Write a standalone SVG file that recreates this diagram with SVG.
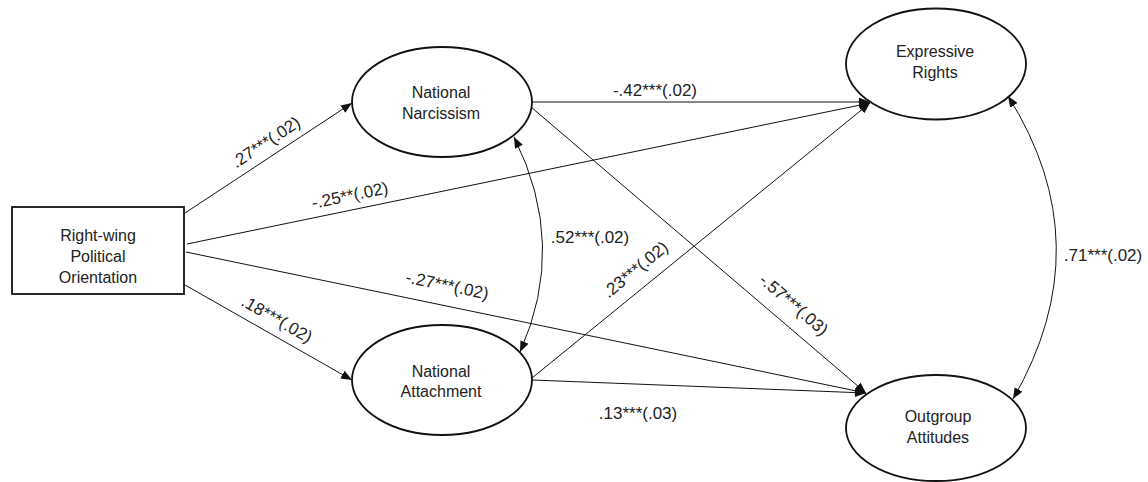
<svg xmlns="http://www.w3.org/2000/svg" width="1148" height="482" viewBox="0 0 1148 482">
<style>
  .node { fill: #ffffff; stroke: #111; stroke-width: 1.8; }
  .ntext { font-family: "Liberation Sans", Arial, sans-serif; font-size: 16px; fill: #222; text-anchor: middle; }
  .conn { fill: none; stroke: #111; stroke-width: 1; }
  .lbl { font-family: "Liberation Sans", Arial, sans-serif; font-size: 17px; fill: #222; text-anchor: middle; }
</style>
<defs>
  <marker id="arr" viewBox="0 0 10 8" refX="10" refY="4" markerUnits="userSpaceOnUse" markerWidth="11" markerHeight="9" orient="auto-start-reverse">
    <path d="M0,0 L10,4 L0,8 z" fill="#111"/>
  </marker>
</defs>
<rect width="1148" height="482" fill="#ffffff"/>

<g id="connectors">
  <path class="conn" d="M185,213 L352,103" marker-end="url(#arr)"/>
  <path class="conn" d="M187,244 L870,103" marker-end="url(#arr)"/>
  <path class="conn" d="M186,252 L866,393" marker-end="url(#arr)"/>
  <path class="conn" d="M185,285 L352,380" marker-end="url(#arr)"/>
  <path class="conn" d="M532,102 L870,102" marker-end="url(#arr)"/>
  <path class="conn" d="M531,107 L866,393" marker-end="url(#arr)"/>
  <path class="conn" d="M532,378 L870,103" marker-end="url(#arr)"/>
  <path class="conn" d="M532,380 L866,393" marker-end="url(#arr)"/>
  <path class="conn" d="M514,137 Q568,245 520,352" marker-start="url(#arr)" marker-end="url(#arr)"/>
  <path class="conn" d="M1008,96 Q1102,245 1013,399" marker-start="url(#arr)" marker-end="url(#arr)"/>
</g>

<g id="labels">
  <text class="lbl" transform="translate(269,147) rotate(-33.4)">.27***(.02)</text>
  <text class="lbl" transform="translate(351,201) rotate(-11.7)">-.25**(.02)</text>
  <text class="lbl" transform="translate(446,291) rotate(11.7)">-.27***(.02)</text>
  <text class="lbl" transform="translate(274,324) rotate(29.6)">.18***(.02)</text>
  <text class="lbl" x="655" y="96">-.42***(.02)</text>
  <text class="lbl" transform="translate(790,309) rotate(40.6)">-.57***(.03)</text>
  <text class="lbl" transform="translate(639,274) rotate(-39.1)">.23***(.02)</text>
  <text class="lbl" x="638" y="419">.13***(.03)</text>
  <text class="lbl" x="590" y="243">.52***(.02)</text>
  <text class="lbl" x="1103" y="261">.71***(.02)</text>
</g>

<g id="node-rwpo">
  <rect class="node" x="12" y="207" width="172" height="87" stroke-width="1.5"/>
  <text class="ntext" x="98" y="241">Right-wing</text>
  <text class="ntext" x="98" y="262">Political</text>
  <text class="ntext" x="98" y="283">Orientation</text>
</g>

<g id="node-nn">
  <ellipse class="node" cx="442" cy="102" rx="90" ry="55"/>
  <text class="ntext" x="441" y="98">National</text>
  <text class="ntext" x="441" y="119">Narcissism</text>
</g>

<g id="node-na">
  <ellipse class="node" cx="442" cy="380" rx="90" ry="55"/>
  <text class="ntext" x="441" y="377">National</text>
  <text class="ntext" x="441" y="397">Attachment</text>
</g>

<g id="node-er">
  <ellipse class="node" cx="936" cy="64" rx="90" ry="55.5"/>
  <text class="ntext" x="935" y="57">Expressive</text>
  <text class="ntext" x="935" y="78">Rights</text>
</g>

<g id="node-oa">
  <ellipse class="node" cx="936" cy="428" rx="90" ry="53"/>
  <text class="ntext" x="938" y="422">Outgroup</text>
  <text class="ntext" x="938" y="443">Attitudes</text>
</g>
</svg>
